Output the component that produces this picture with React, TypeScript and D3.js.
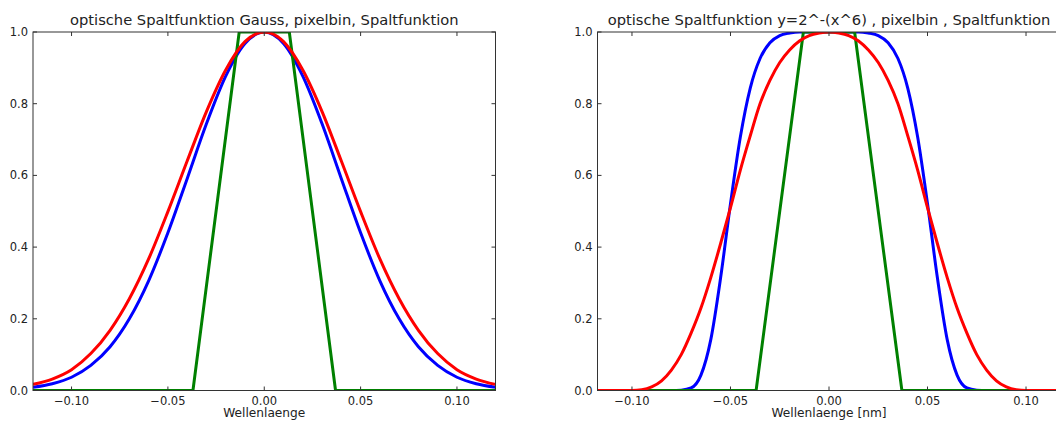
import React from "react";
import * as d3 from "d3";

// ---------- data ----------
// left panel: Gauss profile, sampled every 0.01
const xLeft = [-0.12,-0.11,-0.10,-0.09,-0.08,-0.07,-0.06,-0.05,-0.04,-0.03,-0.02,-0.01,0,0.01,0.02,0.03,0.04,0.05,0.06,0.07,0.08,0.09,0.10,0.11,0.12];
const blueLeft = [0.009,0.019,0.037,0.070,0.122,0.200,0.306,0.440,0.591,0.744,0.877,0.968,1.0,0.968,0.877,0.744,0.591,0.440,0.306,0.200,0.122,0.070,0.037,0.019,0.009];
const redLeft = [0.017,0.032,0.058,0.103,0.168,0.256,0.367,0.499,0.640,0.778,0.894,0.973,1.0,0.973,0.894,0.778,0.640,0.499,0.367,0.256,0.168,0.103,0.058,0.032,0.017];

// right panel: y=2^-(x^6) profile, sampled every 0.005
const xRight = [-0.12,-0.115,-0.11,-0.105,-0.10,-0.095,-0.09,-0.085,-0.08,-0.075,-0.07,-0.065,-0.06,-0.055,-0.05,-0.045,-0.04,-0.035,-0.03,-0.025,-0.02,-0.015,-0.01,-0.005,0,0.005,0.01,0.015,0.02,0.025,0.03,0.035,0.04,0.045,0.05,0.055,0.06,0.065,0.07,0.075,0.08,0.085,0.09,0.095,0.10,0.105,0.11,0.115,0.12];
const blueRight = [0,0,0,0,0,0,0,0,0,0.001,0.007,0.043,0.142,0.315,0.521,0.707,0.843,0.926,0.970,0.990,0.997,1.0,1.0,1.0,1.0,1.0,1.0,1.0,0.997,0.990,0.970,0.926,0.843,0.707,0.521,0.315,0.142,0.043,0.007,0.001,0,0,0,0,0,0,0,0,0];
const redRight = [0,0,0,0,0,0.002,0.010,0.027,0.057,0.100,0.160,0.230,0.315,0.410,0.510,0.615,0.710,0.800,0.865,0.915,0.950,0.975,0.990,0.997,1.0,0.997,0.990,0.975,0.950,0.915,0.865,0.800,0.710,0.615,0.510,0.410,0.315,0.230,0.160,0.100,0.057,0.027,0.010,0.002,0,0,0,0,0];

// pixel bin (same in both panels)
const xGreen = [-0.12,-0.037,-0.013,0.013,0.037,0.12];
const yGreen = [0,0,1,1,0,0];

const xTicks = [-0.10,-0.05,0,0.05,0.10];
const xTickLabels = ["\u22120.10","\u22120.05","0.00","0.05","0.10"];
const yTicks = [0,0.2,0.4,0.6,0.8,1.0];
const yTickLabels = ["0.0","0.2","0.4","0.6","0.8","1.0"];

const titles = [
  "optische Spaltfunktion Gauss, pixelbin, Spaltfunktion",
  "optische Spaltfunktion y=2^-(x^6) , pixelbin , Spaltfunktion",
];
const xLabels = ["Wellenlaenge", "Wellenlaenge [nm]"];

const FONT = "'DejaVu Sans', sans-serif";

type PanelProps = {
  id: string;
  left: number;
  right: number;
  domain: [number, number];
  xs: number[];
  blue: number[];
  red: number[];
  title: string;
  xlabel: string;
};

const TOP = 32;
const BOTTOM = 390.5;

function Panel({ id, left, right, domain, xs, blue, red, title, xlabel }: PanelProps) {
  const x = d3.scaleLinear().domain(domain).range([left, right]);
  const y = d3.scaleLinear().domain([0, 1]).range([BOTTOM, TOP]);
  const line = d3
    .line<[number, number]>()
    .x((d) => x(d[0]))
    .y((d) => y(d[1]))
    .curve(d3.curveMonotoneX);
  const lin = d3
    .line<[number, number]>()
    .x((d) => x(d[0]))
    .y((d) => y(d[1]));
  const bluePts = xs.map((v, i) => [v, blue[i]] as [number, number]);
  const redPts = xs.map((v, i) => [v, red[i]] as [number, number]);
  const greenPts = xGreen.map((v, i) => [v, yGreen[i]] as [number, number]);
  const cx = (left + right) / 2;
  const tl = 4;
  return (
    <g>
      <defs>
        <clipPath id={id}>
          <rect x={left} y={TOP} width={right - left} height={BOTTOM - TOP} />
        </clipPath>
      </defs>
      <g clipPath={`url(#${id})`} fill="none" strokeWidth={3} strokeLinejoin="round">
        <path d={line(bluePts) || ""} stroke="#0000ff" />
        <path d={lin(greenPts) || ""} stroke="#008000" />
        <path d={line(redPts) || ""} stroke="#ff0000" />
      </g>
      <rect x={left} y={TOP} width={right - left} height={BOTTOM - TOP} fill="none" stroke="#333" strokeWidth={1} />
      {xTicks.map((t, i) => (
        <g key={"x" + i}>
          <line x1={x(t)} x2={x(t)} y1={BOTTOM} y2={BOTTOM - tl} stroke="#333" />
          <line x1={x(t)} x2={x(t)} y1={TOP} y2={TOP + tl} stroke="#333" />
          <text x={x(t)} y={BOTTOM + 14} textAnchor="middle" fontSize={11.5} fontFamily={FONT} fill="#222">
            {xTickLabels[i]}
          </text>
        </g>
      ))}
      {yTicks.map((t, i) => (
        <g key={"y" + i}>
          <line x1={left} x2={left + tl} y1={y(t)} y2={y(t)} stroke="#333" />
          <line x1={right} x2={right - tl} y1={y(t)} y2={y(t)} stroke="#333" />
          <text x={left - 5} y={y(t) + 4} textAnchor="end" fontSize={11.5} fontFamily={FONT} fill="#222">
            {yTickLabels[i]}
          </text>
        </g>
      ))}
      <text x={cx} y={417} textAnchor="middle" fontSize={12.2} fontFamily={FONT} fill="#222">
        {xlabel}
      </text>
      <text x={cx} y={25} textAnchor="middle" fontSize={14.7} fontFamily={FONT} fill="#222">
        {title}
      </text>
    </g>
  );
}

export default function App() {
  return (
    <svg
      width={1056}
      height={421}
      style={{ position: "absolute", left: 0, top: 0, background: "#fff", display: "block" }}
    >
      <rect x={0} y={0} width={1056} height={421} fill="#fff" />
      <Panel
        id="clipL"
        left={33}
        right={495.5}
        domain={[-0.12, 0.12]}
        xs={xLeft}
        blue={blueLeft}
        red={redLeft}
        title={titles[0]}
        xlabel={xLabels[0]}
      />
      <Panel
        id="clipR"
        left={597.5}
        right={1060.5}
        domain={[-0.1175, 0.1175]}
        xs={xRight}
        blue={blueRight}
        red={redRight}
        title={titles[1]}
        xlabel={xLabels[1]}
      />
    </svg>
  );
}
